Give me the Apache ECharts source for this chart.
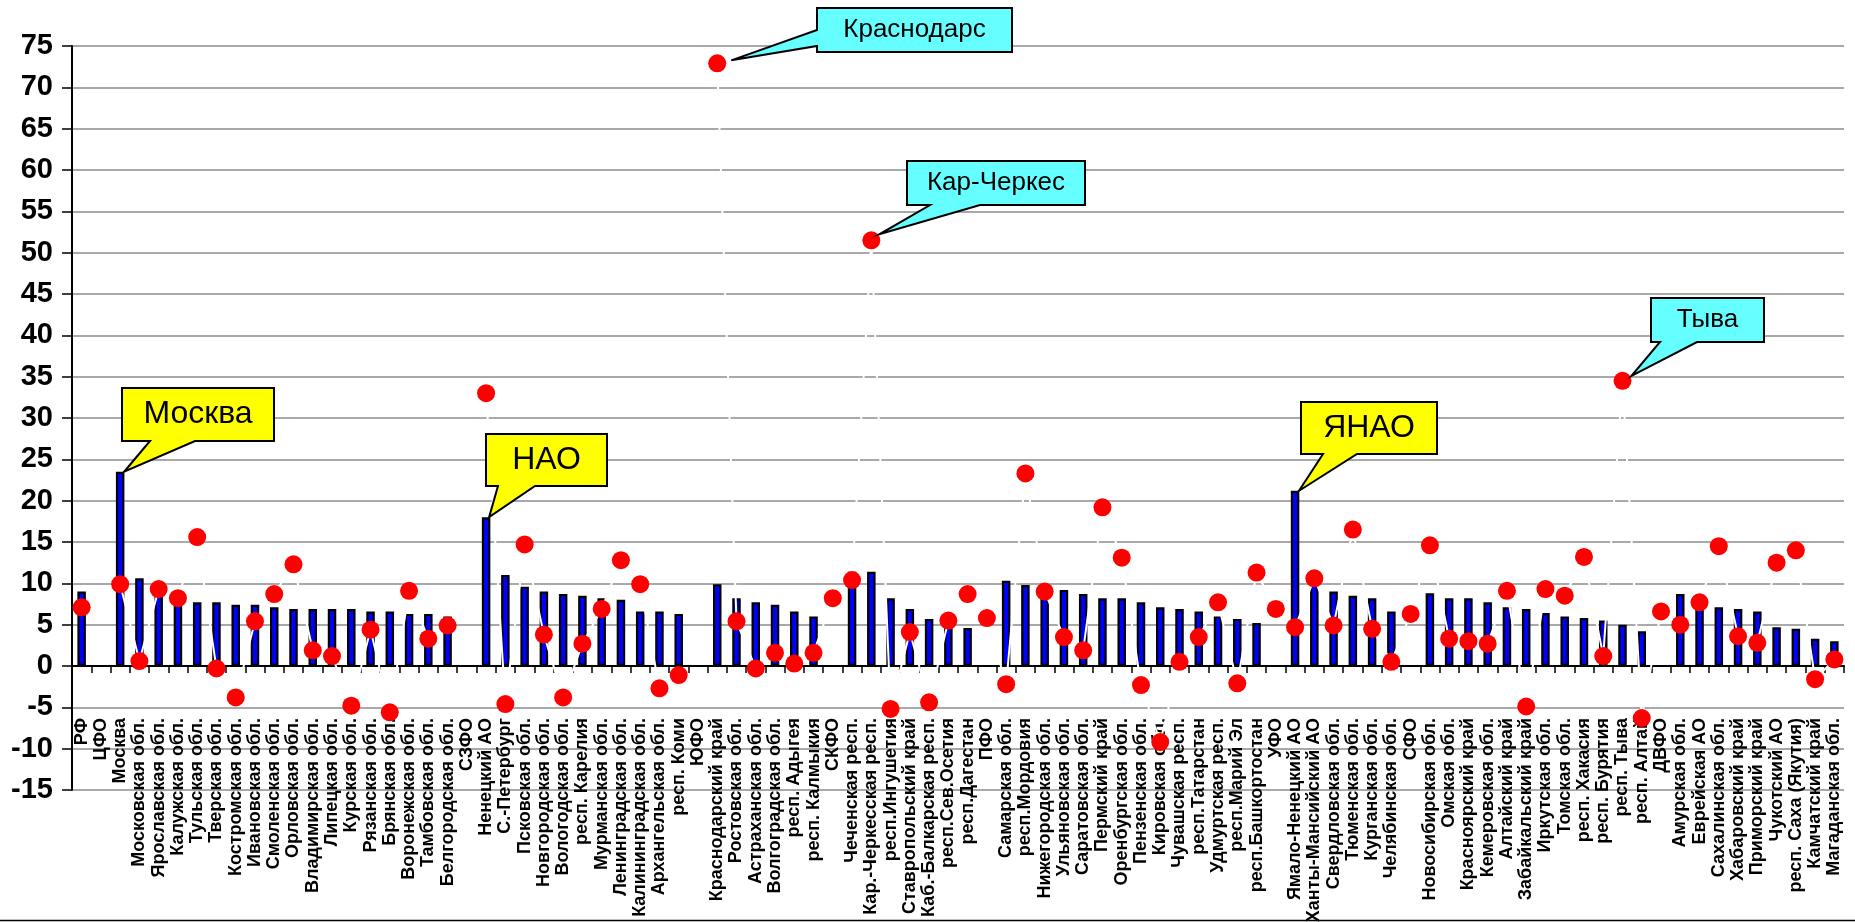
<!DOCTYPE html>
<html><head><meta charset="utf-8">
<script src="https://cdn.jsdelivr.net/npm/echarts/dist/echarts.min.js"></script>
<style>html,body{margin:0;padding:0;background:#fff;overflow:hidden}#c{width:1855px;height:922px}</style>
</head><body><div id="c"></div><script>
const categories = [
 'РФ','ЦФО','Москва','Московская обл.','Ярославская обл.','Калужская обл.','Тульская обл.','Тверская обл.','Костромская обл.','Ивановская обл.',
 'Смоленская обл.','Орловская обл.','Владимирская обл.','Липецкая обл.','Курская обл.','Рязанская обл.','Брянская обл.','Воронежская обл.','Тамбовская обл.','Белгородская обл.',
 'СЗФО','Ненецкий АО','С.-Петербург','Псковская обл.','Новгородская обл.','Вологодская обл.','респ. Карелия','Мурманская обл.','Ленинградская обл.','Калининградская обл.',
 'Архангельская обл.','респ. Коми','ЮФО','Краснодарский край','Ростовская обл.','Астраханская обл.','Волгоградская обл.','респ. Адыгея','респ. Калмыкия','СКФО',
 'Чеченская респ.','Кар.-Черкесская респ.','респ.Ингушетия','Ставропольский край','Каб.-Балкарская респ.','респ.Сев.Осетия','респ.Дагестан','ПФО','Самарская обл.','респ.Мордовия',
 'Нижегородская обл.','Ульяновская обл.','Саратовская обл.','Пермский край','Оренбургская обл.','Пензенская обл.','Кировская обл.','Чувашская респ.','респ.Татарстан','Удмуртская респ.',
 'респ.Марий Эл','респ.Башкортостан','УФО','Ямало-Ненецкий АО','Ханты-Мансийский АО','Свердловская обл.','Тюменская обл.','Курганская обл.','Челябинская обл.','СФО',
 'Новосибирская обл.','Омская обл.','Красноярский край','Кемеровская обл.','Алтайский край','Забайкальский край','Иркутская обл.','Томская обл.','респ. Хакасия','респ. Бурятия',
 'респ. Тыва','респ. Алтай','ДВФО','Амурская обл.','Еврейская АО','Сахалинская обл.','Хабаровский край','Приморский край','Чукотский АО','респ. Саха (Якутия)',
 'Камчатский край','Магаданская обл.'
];
const barValues = [
 9.0,null,23.5,10.6,8.8,7.9,7.7,7.7,7.4,7.4,
 7.1,6.9,6.9,6.9,6.9,6.6,6.6,6.3,6.3,6.0,
 null,18.0,11.0,9.6,9.0,8.7,8.5,8.2,8.0,6.6,
 6.6,6.3,null,9.9,8.2,7.7,7.4,6.6,6.0,null,
 11.4,11.4,8.2,6.9,5.7,5.0,4.6,null,10.3,9.8,
 9.4,9.2,8.7,8.2,8.2,7.7,7.1,6.9,6.6,6.0,
 5.7,5.2,null,21.2,10.5,9.0,8.5,8.2,6.6,null,
 8.8,8.2,8.2,7.7,7.1,6.9,6.4,6.0,5.8,5.5,
 5.0,4.2,null,8.7,8.4,7.1,6.9,6.6,4.7,4.5,
 3.3,3.0
];
const dotValues = [
 7.1,null,9.9,0.6,9.3,8.2,15.6,-0.3,-3.8,5.4,
 8.7,12.3,1.9,1.2,-4.8,4.4,-5.6,9.1,3.3,4.9,
 null,33.0,-4.6,14.7,3.8,-3.8,2.7,6.9,12.8,9.9,
 -2.7,-1.1,null,72.9,5.4,-0.3,1.6,0.3,1.6,8.2,
 10.4,51.5,-5.2,4.1,-4.4,5.5,8.7,5.8,-2.2,23.3,
 9.0,3.5,1.9,19.2,13.1,-2.3,-9.2,0.5,3.5,7.7,
 -2.1,11.3,6.9,4.7,10.6,4.9,16.5,4.5,0.5,6.3,
 14.6,3.3,3.0,2.7,9.1,-4.9,9.3,8.5,13.2,1.2,
 34.5,-6.3,6.6,5.0,7.7,14.5,3.6,2.8,12.5,14.0,
 -1.6,0.8
];
const yMin = -15, yMax = 75, yStep = 5;

const calloutTexts = ['Москва','НАО','ЯНАО','Краснодарс','Кар-Черкес','Тыва'];
const calloutTargets = ['Москва','Ненецкий АО','Ямало-Ненецкий АО','Краснодарский край','Кар.-Черкесская респ.','респ. Тыва'];
const calloutSources = ['bar','bar','bar','dot','dot','dot'];

const FONT = "'Liberation Sans', Arial, sans-serif";
const chart = echarts.init(document.getElementById('c'), null, {renderer:'canvas'});
chart.setOption({
  animation:false,
  backgroundColor:'#fff',
  grid:{left:72,right:11,top:46,bottom:132,containLabel:false,outerBoundsMode:'none'},
  xAxis:{
    type:'category', data:categories, boundaryGap:true,
    axisLine:{onZero:true,lineStyle:{color:'#000',width:2}},
    axisTick:{show:true,interval:0,length:7,lineStyle:{color:'#000',width:1.5}},
    axisLabel:{interval:0,rotate:90,margin:-72,color:'#000',fontSize:18,fontWeight:'bold',fontFamily:FONT,hideOverlap:false},
    splitLine:{show:false}
  },
  yAxis:{
    type:'value', min:yMin, max:yMax, interval:yStep,
    axisLine:{show:true,lineStyle:{color:'#000',width:2}},
    axisTick:{show:true,length:10,lineStyle:{color:'#000',width:1.5}},
    axisLabel:{color:'#000',fontSize:29,fontWeight:'bold',fontFamily:FONT,margin:19},
    splitLine:{show:true,lineStyle:{color:'#8c8c8c',width:1.5}}
  },
  series:[
    {type:'bar',data:barValues,barWidth:8.5,z:2,
     itemStyle:{color:'#0000FF',borderColor:'#000',borderWidth:2.2}},
    {type:'line',data:dotValues,z:3,connectNulls:false,showAllSymbol:true,
     symbol:'circle',symbolSize:18,itemStyle:{color:'#FF0000'},
     lineStyle:{color:'#FFFFFF',width:2}}
  ]
});

// callout layout (pixels): box [x0,y0,x1,y1], wedge side/base, tip offset from the data point
const calloutLayout = [
  {box:[122,388,274,441],side:'bottom',base:[150,195],dx:4,dy:0,fill:'#FFFF00',font:32},
  {box:[486,434,607,486],side:'bottom',base:[498,535],dx:3,dy:0,fill:'#FFFF00',font:32},
  {box:[1301,402,1437,454],side:'bottom',base:[1323,1357],dx:4,dy:0,fill:'#FFFF00',font:32},
  {box:[817,8,1012,52],side:'left',base:[30,46],dx:14,dy:-3,fill:'#66FFFF',font:26},
  {box:[907,161,1085,205],side:'bottom',base:[930,980],dx:8,dy:-6,fill:'#66FFFF',font:26},
  {box:[1651,298,1764,342],side:'bottom',base:[1660,1697],dx:9,dy:-5,fill:'#66FFFF',font:26}
];
const graphics = [];
calloutTexts.forEach((t,i)=>{
  const L = calloutLayout[i];
  const idx = categories.indexOf(calloutTargets[i]);
  const v = calloutSources[i]==='bar' ? barValues[idx] : dotValues[idx];
  const p = chart.convertToPixel({xAxisIndex:0,yAxisIndex:0},[idx,v]);
  const tip = [p[0]+L.dx, p[1]+L.dy];
  const [x0,y0,x1,y1] = L.box;
  let pts;
  if (L.side==='bottom') {
    pts = [[x0,y0],[x1,y0],[x1,y1],[L.base[1],y1],tip,[L.base[0],y1],[x0,y1]];
  } else {
    pts = [[x0,y0],[x1,y0],[x1,y1],[x0,y1],[x0,L.base[1]],tip,[x0,L.base[0]]];
  }
  graphics.push({type:'polygon',z:100,shape:{points:pts},style:{fill:L.fill,stroke:'#000',lineWidth:2,lineJoin:'miter'}});
  graphics.push({type:'text',z:101,x:(x0+x1)/2,y:(y0+y1)/2,
    style:{text:t,fill:'#000',font:L.font+'px '+FONT,textAlign:'center',textVerticalAlign:'middle'}});
});
graphics.push({type:'line',z:100,shape:{x1:0,y1:920.5,x2:1855,y2:920.5},style:{stroke:'#000',lineWidth:1.5}});
chart.setOption({graphic:graphics});
</script></body></html>
